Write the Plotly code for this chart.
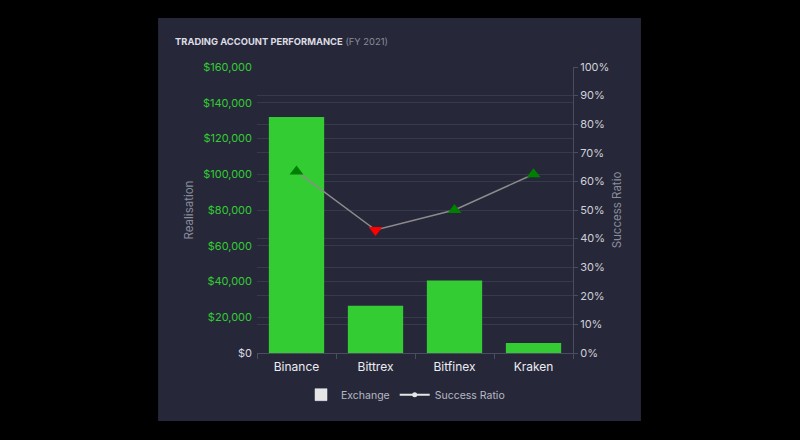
import plotly.graph_objects as go

# values
exchanges = ["Binance", "Bittrex", "Bitfinex", "Kraken"]
realisation = [132000, 26500, 40500, 5600]
success_ratio = [63.5, 43, 50, 62.5]

left_ticks = [0, 20000, 40000, 60000, 80000, 100000, 120000, 140000, 160000]
left_labels = ["$0", "$20,000", "$40,000", "$60,000", "$80,000",
               "$100,000", "$120,000", "$140,000", "$160,000"]
right_ticks = [0, 10, 20, 30, 40, 50, 60, 70, 80, 90, 100]
right_labels = [f"{t}%" for t in right_ticks]

CARD = "#262839"
GRID = "#373a4b"
GREEN = "#33cc33"
FONT = "Inter"

# the $0 label is light grey in the reference, the rest green
left_text = [f"<span style='color:#d8d8e0'>{t}</span>" if v == 0 else t
             for v, t in zip(left_ticks, left_labels)]

# up / down markers depending on the move from the previous exchange
symbols, colors = [], []
for i, v in enumerate(success_ratio):
    if i > 0 and v < success_ratio[i - 1]:
        symbols.append("triangle-down")
        colors.append("#ff0000")
    else:
        symbols.append("triangle-up")
        colors.append("#008000")

fig = go.Figure()

fig.add_trace(go.Bar(
    x=exchanges, y=realisation, name="Exchange",
    marker=dict(color=GREEN, line=dict(width=0)),
    width=0.7, showlegend=False,
))

fig.add_trace(go.Scatter(
    x=exchanges, y=success_ratio, name="Success Ratio", yaxis="y2",
    mode="lines+markers",
    line=dict(color="#8c8c8c", width=1.5),
    marker=dict(symbol=symbols, color=colors, size=12),
    showlegend=False,
))

# legend entries drawn in white like the reference
fig.add_trace(go.Bar(x=[None], y=[None], name="Exchange",
                     marker=dict(color="#e6e6e6")))
fig.add_trace(go.Scatter(x=[None], y=[None], name="Success Ratio",
                         mode="lines+markers", yaxis="y2",
                         line=dict(color="#e6e6e6", width=2),
                         marker=dict(color="#e6e6e6", size=5)))

fig.update_layout(
    width=800, height=440,
    margin=dict(l=257, r=227, t=67, b=87),
    paper_bgcolor="#000000",
    plot_bgcolor=CARD,
    barmode="overlay",
    font=dict(family=FONT, color="#d0d0d8", size=11),
    shapes=[dict(type="rect", xref="paper", yref="paper",
                 x0=-0.313, x1=1.215, y0=-0.238, y1=1.171,
                 fillcolor=CARD, line=dict(width=0), layer="below")],
    annotations=[dict(
        xref="paper", yref="paper", x=-0.266, y=1.09,
        xanchor="left", yanchor="middle", showarrow=False,
        text="<b>TRADING ACCOUNT PERFORMANCE</b> <span style='color:#8a8c99'>(FY 2021)</span>",
        font=dict(family=FONT, size=9.4, color="#dcdce4"),
    )],
    xaxis=dict(
        showgrid=False, showline=True, linecolor="#4a4d60", linewidth=1,
        ticks="outside", tickson="boundaries", ticklen=5, tickcolor="#4a4d60",
        tickfont=dict(color="#ececf2", size=12), ticklabelstandoff=3,
    ),
    yaxis=dict(
        range=[0, 160000], tickvals=left_ticks, ticktext=left_text,
        showgrid=True, gridcolor=GRID, gridwidth=1, zeroline=False,
        tickfont=dict(color=GREEN, size=11),
        title=dict(text="Realisation", font=dict(color="#8a8c99", size=11.5), standoff=6),
        ticklabelstandoff=4,
    ),
    yaxis2=dict(
        overlaying="y", side="right", range=[0, 100],
        tickvals=right_ticks, ticktext=right_labels,
        showgrid=True, gridcolor=GRID, gridwidth=1, zeroline=False,
        showline=True, linecolor="#4a4d60", linewidth=1,
        ticks="outside", ticklen=4, tickcolor="#4a4d60",
        tickfont=dict(color="#d0d0d8", size=11),
        title=dict(text="Success Ratio", font=dict(color="#8a8c99", size=11.5), standoff=4),
    ),
    legend=dict(
        orientation="h", x=0.47, xanchor="center", y=-0.095, yanchor="top",
        font=dict(color="#b8b8c4", size=10.5), bgcolor="rgba(0,0,0,0)",
        itemwidth=30,
    ),
)

fig.write_html("out.html", config={"displayModeBar": False},
               post_script="document.body.style.margin='0';document.body.style.background='#000';")
